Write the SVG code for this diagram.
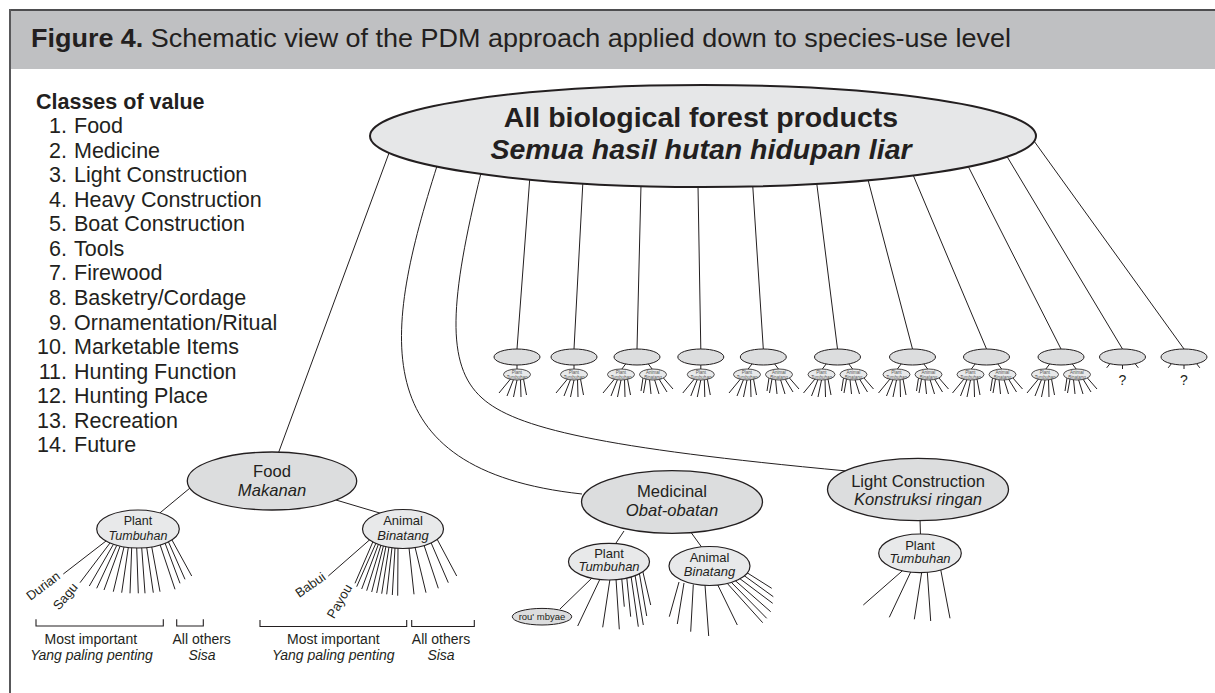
<svg xmlns="http://www.w3.org/2000/svg" width="1215" height="693" viewBox="0 0 1215 693">
<style>
.ln{stroke:#231f20;stroke-width:1;fill:none}
.br{stroke:#231f20;stroke-width:1.1;fill:none}
.e0{fill:#e6e7e8;stroke:#231f20;stroke-width:2}
.e1{fill:#dcddde;stroke:#231f20;stroke-width:1.3}
.e2{fill:#e8e9ea;stroke:#231f20;stroke-width:1.2}
.e3{fill:#dcddde;stroke:#231f20;stroke-width:1}
.e4{fill:#e8e9ea;stroke:#231f20;stroke-width:0.8}
text{font-family:"Liberation Sans",Arial,Helvetica,sans-serif;fill:#231f20}
.c{text-anchor:middle}
.i{font-style:italic}
.leg{font-size:21.5px}
.mid{font-size:16.6px}
.sm{font-size:13px}
.br14{font-size:14px}
.tiny{font-size:4.5px;fill:#555}
</style>
<rect width="1215" height="693" fill="#ffffff"/>
<g id="frame">
<rect x="10" y="10" width="1205" height="59" fill="#bfc0c2"/>
<line x1="10" y1="10" x2="1215" y2="10" stroke="#4d4d4f" stroke-width="2"/>
<line x1="10" y1="9" x2="10" y2="693" stroke="#58585a" stroke-width="2"/>
<text x="31" y="47" font-size="25" textLength="980" lengthAdjust="spacingAndGlyphs"><tspan font-weight="bold">Figure 4.</tspan> Schematic view of the PDM approach applied down to species-use level</text>
</g>
<g id="legend">
<text x="36" y="109" font-size="21.5" font-weight="bold">Classes of value</text>
<text class="leg"><tspan x="67" y="133" text-anchor="end">1.</tspan><tspan x="74" y="133">Food</tspan></text>
<text class="leg"><tspan x="67" y="157.6" text-anchor="end">2.</tspan><tspan x="74" y="157.6">Medicine</tspan></text>
<text class="leg"><tspan x="67" y="182.1" text-anchor="end">3.</tspan><tspan x="74" y="182.1">Light Construction</tspan></text>
<text class="leg"><tspan x="67" y="206.7" text-anchor="end">4.</tspan><tspan x="74" y="206.7">Heavy Construction</tspan></text>
<text class="leg"><tspan x="67" y="231.3" text-anchor="end">5.</tspan><tspan x="74" y="231.3">Boat Construction</tspan></text>
<text class="leg"><tspan x="67" y="255.9" text-anchor="end">6.</tspan><tspan x="74" y="255.9">Tools</tspan></text>
<text class="leg"><tspan x="67" y="280.4" text-anchor="end">7.</tspan><tspan x="74" y="280.4">Firewood</tspan></text>
<text class="leg"><tspan x="67" y="305" text-anchor="end">8.</tspan><tspan x="74" y="305">Basketry/Cordage</tspan></text>
<text class="leg"><tspan x="67" y="329.6" text-anchor="end">9.</tspan><tspan x="74" y="329.6">Ornamentation/Ritual</tspan></text>
<text class="leg"><tspan x="67" y="354.1" text-anchor="end">10.</tspan><tspan x="74" y="354.1">Marketable Items</tspan></text>
<text class="leg"><tspan x="67" y="378.7" text-anchor="end">11.</tspan><tspan x="74" y="378.7">Hunting Function</tspan></text>
<text class="leg"><tspan x="67" y="403.3" text-anchor="end">12.</tspan><tspan x="74" y="403.3">Hunting Place</tspan></text>
<text class="leg"><tspan x="67" y="427.8" text-anchor="end">13.</tspan><tspan x="74" y="427.8">Recreation</tspan></text>
<text class="leg"><tspan x="67" y="452.4" text-anchor="end">14.</tspan><tspan x="74" y="452.4">Future</tspan></text>
</g>
<g id="connectors">
<path class="ln" d="M389.4,152 L278.4,453"/>
<path class="ln" d="M437,166 C385,330 360,470 582,494"/>
<path class="ln" d="M481,173 C450,300 445,365 482,398 C515,428 600,448 847,471"/>
<path class="ln" d="M529.8,178 L517,349"/>
<path class="ln" d="M582.9,182 L574,349"/>
<path class="ln" d="M641,185 L637,349"/>
<path class="ln" d="M698,186 L700.8,349"/>
<path class="ln" d="M752.7,185 L763.3,349"/>
<path class="ln" d="M816.7,183 L837.5,349"/>
<path class="ln" d="M867.8,179 L912.5,349"/>
<path class="ln" d="M912.7,174 L986.5,349"/>
<path class="ln" d="M968,166 L1061,349"/>
<path class="ln" d="M1006.7,156 L1122.5,349"/>
<path class="ln" d="M1034,141 L1184,349"/>
<path class="ln" d="M517,364 V370 M574,364 V370 M700.8,364 V370
M626,363.5 L621.5,369.5 M648,363.5 L652.5,369.5
M752.3,363.5 L747.8,369.5 M774.3,363.5 L778.8,369.5
M826.5,363.5 L822,369.5 M848.5,363.5 L853,369.5
M901.5,363.5 L897,369.5 M923.5,363.5 L928,369.5
M975.5,363.5 L971,369.5 M997.5,363.5 L1002,369.5
M1050,363.5 L1045.5,369.5 M1072,363.5 L1076.5,369.5"/>
<path class="ln" d="M510.5,379 L499,393 M513.5,379.5 L507,396 M517,380 L513.5,397 M520.5,379.5 L521,397 M523.5,379 L526.5,395
M567.5,379 L556,393 M570.5,379.5 L564,396 M574,380 L570.5,397 M577.5,379.5 L578,397 M580.5,379 L583.5,395
M614.5,379 L603,393 M617.5,379.5 L611,396 M621,380 L617.5,397 M624.5,379.5 L625,397 M627.5,379 L630.5,395
M694.3,379 L682.8,393 M697.3,379.5 L690.8,396 M700.8,380 L697.3,397 M704.3,379.5 L704.8,397 M707.3,379 L710.3,395
M740.5,379 L729,393 M743.5,379.5 L737,396 M747,380 L743.5,397 M750.5,379.5 L751,397 M753.5,379 L756.5,395
M815,379 L803.5,393 M818,379.5 L811.5,396 M821.5,380 L818,397 M825,379.5 L825.5,397 M828,379 L831,395
M890,379 L878.5,393 M893,379.5 L886.5,396 M896.5,380 L893,397 M900,379.5 L900.5,397 M903,379 L906,395
M964,379 L952.5,393 M967,379.5 L960.5,396 M970.5,380 L967,397 M974,379.5 L974.5,397 M977,379 L980,395
M1038.5,379 L1027,393 M1041.5,379.5 L1035,396 M1045,380 L1041.5,397 M1048.5,379.5 L1049,397 M1051.5,379 L1054.5,395"/>
<path class="ln" d="M643,378 L641,391 M646,379 L643.5,393 M649.5,379.5 L651,394 M654.5,379.5 L659,394 M659,379 L667,392 M663,377.5 L673,389
M769,378 L767,391 M772,379 L769.5,393 M775.5,379.5 L777,394 M780.5,379.5 L785,394 M785,379 L793,392 M789,377.5 L799,389
M843.5,378 L841.5,391 M846.5,379 L844,393 M850,379.5 L851.5,394 M855,379.5 L859.5,394 M859.5,379 L867.5,392 M863.5,377.5 L873.5,389
M918.5,378 L916.5,391 M921.5,379 L919,393 M925,379.5 L926.5,394 M930,379.5 L934.5,394 M934.5,379 L942.5,392 M938.5,377.5 L948.5,389
M992.5,378 L990.5,391 M995.5,379 L993,393 M999,379.5 L1000.5,394 M1004,379.5 L1008.5,394 M1008.5,379 L1016.5,392 M1012.5,377.5 L1022.5,389
M1067,378 L1065,391 M1070,379 L1067.5,393 M1073.5,379.5 L1075,394 M1078.5,379.5 L1083,394 M1083,379 L1091,392 M1087,377.5 L1097,389"/>
<path class="ln" d="M1110,363.6 L1106.7,367.8 M1122.5,365 V369 M1135,363.6 L1138.3,367.8
M1171.5,363.6 L1168.2,367.8 M1184,365 V369 M1196.5,363.6 L1199.8,367.8"/>
<path class="ln" d="M190,488 L155,517 M336,500 L383,514"/>
<path class="ln" d="M106,541 L63.3,574 M110,543 L80,582.7 M113.3,544.5 L89.3,586 M116.7,545.5 L96.7,588.3 M120,546.3 L104,590
M124,547 L113.3,591.7 M128.3,547.5 L121.7,592.7 M131.7,547.5 L130,593.3 M136.7,547.5 L138.3,593.3 M141.7,547.5 L145,593.3
M146.7,547.3 L153.3,592.7 M151.7,546.7 L160,591.7 M160,544.5 L175,589.3 M165,543 L180,583.3 M168.3,541.5 L185,579.3 M171.7,539.5 L191.7,576"/>
<path class="ln" d="M370,539.5 L328.3,576 M373,541.5 L355,583.3 M376,543 L356.7,586.7 M378.5,544 L361.7,589 M381,545 L366.7,590.7
M383.5,545.6 L371.7,592 M386,546.2 L376.7,593 M389,546.8 L381.7,593.7 M392,547.3 L386.7,594.3 M395,547.6 L392.3,595
M398,547.8 L397.7,595.7 M409,547.8 L414,594.3 M415,547.1 L426,592.7 M424,545.2 L438.3,588.3 M431,542.6 L448.3,582.7 M437,539 L456.7,576"/>
<path class="ln" d="M624,531 L614,546 M690,531 L703,549 M593,577 L560,609"/>
<path class="ln" d="M610,579 L602.7,627.3 M616,579 L619.3,629.3 M621.7,578 L624.3,606.7 M626.7,577 L630.7,616.7
M631,576 L638.3,626.7 M635,575 L643.3,625 M639.3,573 L646.7,616 M642.7,571 L650.7,605 M600,579 L577.7,626"/>
<path class="ln" d="M679,582 L669.3,616.7 M684,583 L677.3,624 M693.3,584.5 L690.7,631.7 M705,585 L708.7,636
M717.3,584 L737.3,625 M726,582 L762.7,622.7 M730,581 L766.7,618.3 M734,579.5 L770.7,611.7 M738.3,577.5 L772.7,603.3
M743.3,575 L773.3,596.7 M746.7,572.5 L771.7,588.3"/>
<path class="ln" d="M920,519 L920.5,536"/>
<path class="ln" d="M902.7,570.5 L863.3,605 M910.7,572 L889.3,617.3 M921.7,572.3 L914.3,619.3 M927.3,572 L930.7,621 M940.7,569.5 L950,618.3"/>
<path class="br" d="M36,619.3 V626 H163.3 V619.3 M176.7,619.3 V626 H203.3 V619.3"/>
<path class="br" d="M260,620 V626.5 H406.7 V620 M411.7,620 V626.5 H474.3 V620"/>
</g>
<g id="root">
<ellipse class="e0" cx="703" cy="136" rx="333" ry="51"/>
<text class="c" x="701" y="127" font-size="28.5" font-weight="bold">All biological forest products</text>
<text class="c" x="701" y="159" font-size="28.5" font-weight="bold" font-style="italic">Semua hasil hutan hidupan liar</text>
</g>
<g id="class-row">
<ellipse class="e3" cx="517" cy="357" rx="23" ry="8"/>
<ellipse class="e3" cx="574" cy="357" rx="23" ry="8"/>
<ellipse class="e3" cx="637" cy="357" rx="23" ry="8"/>
<ellipse class="e3" cx="700.8" cy="357" rx="23" ry="8"/>
<ellipse class="e3" cx="763.3" cy="357" rx="23" ry="8"/>
<ellipse class="e3" cx="837.5" cy="357" rx="23" ry="8"/>
<ellipse class="e3" cx="912.5" cy="357" rx="23" ry="8"/>
<ellipse class="e3" cx="986.5" cy="357" rx="23" ry="8"/>
<ellipse class="e3" cx="1061" cy="357" rx="23" ry="8"/>
<ellipse class="e3" cx="1122.5" cy="357" rx="23" ry="8"/>
<ellipse class="e3" cx="1184" cy="357" rx="23" ry="8"/>
<text class="c" x="1122.5" y="385" font-size="14">?</text>
<text class="c" x="1184" y="385" font-size="14">?</text>
</g>
<g id="class-row-children">
<ellipse class="e4" cx="517" cy="374.5" rx="13.5" ry="5.5"/><text class="c tiny" x="517" y="373.6">Plant</text><text class="c tiny i" x="517" y="378.5">Tumbuhan</text>
<ellipse class="e4" cx="574" cy="374.5" rx="13.5" ry="5.5"/><text class="c tiny" x="574" y="373.6">Plant</text><text class="c tiny i" x="574" y="378.5">Tumbuhan</text>
<ellipse class="e4" cx="621" cy="374.5" rx="13.5" ry="5.5"/><text class="c tiny" x="621" y="373.6">Plant</text><text class="c tiny i" x="621" y="378.5">Tumbuhan</text>
<ellipse class="e4" cx="653" cy="374.5" rx="13.5" ry="5.5"/><text class="c tiny" x="653" y="373.6">Animal</text><text class="c tiny i" x="653" y="378.5">Binatang</text>
<ellipse class="e4" cx="700.8" cy="374.5" rx="13.5" ry="5.5"/><text class="c tiny" x="700.8" y="373.6">Plant</text><text class="c tiny i" x="700.8" y="378.5">Tumbuhan</text>
<ellipse class="e4" cx="747" cy="374.5" rx="13.5" ry="5.5"/><text class="c tiny" x="747" y="373.6">Plant</text><text class="c tiny i" x="747" y="378.5">Tumbuhan</text>
<ellipse class="e4" cx="779" cy="374.5" rx="13.5" ry="5.5"/><text class="c tiny" x="779" y="373.6">Animal</text><text class="c tiny i" x="779" y="378.5">Binatang</text>
<ellipse class="e4" cx="821.5" cy="374.5" rx="13.5" ry="5.5"/><text class="c tiny" x="821.5" y="373.6">Plant</text><text class="c tiny i" x="821.5" y="378.5">Tumbuhan</text>
<ellipse class="e4" cx="853.5" cy="374.5" rx="13.5" ry="5.5"/><text class="c tiny" x="853.5" y="373.6">Animal</text><text class="c tiny i" x="853.5" y="378.5">Binatang</text>
<ellipse class="e4" cx="896.5" cy="374.5" rx="13.5" ry="5.5"/><text class="c tiny" x="896.5" y="373.6">Plant</text><text class="c tiny i" x="896.5" y="378.5">Tumbuhan</text>
<ellipse class="e4" cx="928.5" cy="374.5" rx="13.5" ry="5.5"/><text class="c tiny" x="928.5" y="373.6">Animal</text><text class="c tiny i" x="928.5" y="378.5">Binatang</text>
<ellipse class="e4" cx="970.5" cy="374.5" rx="13.5" ry="5.5"/><text class="c tiny" x="970.5" y="373.6">Plant</text><text class="c tiny i" x="970.5" y="378.5">Tumbuhan</text>
<ellipse class="e4" cx="1002.5" cy="374.5" rx="13.5" ry="5.5"/><text class="c tiny" x="1002.5" y="373.6">Animal</text><text class="c tiny i" x="1002.5" y="378.5">Binatang</text>
<ellipse class="e4" cx="1045" cy="374.5" rx="13.5" ry="5.5"/><text class="c tiny" x="1045" y="373.6">Plant</text><text class="c tiny i" x="1045" y="378.5">Tumbuhan</text>
<ellipse class="e4" cx="1077" cy="374.5" rx="13.5" ry="5.5"/><text class="c tiny" x="1077" y="373.6">Animal</text><text class="c tiny i" x="1077" y="378.5">Binatang</text>
</g>
<g id="food">
<ellipse class="e1" cx="272" cy="481" rx="84.7" ry="29"/>
<text class="c mid" x="272" y="477">Food</text>
<text class="c mid i" x="272" y="495.5">Makanan</text>
</g>
<g id="food-plant">
<ellipse class="e2" cx="138" cy="529" rx="41.3" ry="19"/>
<text class="c" x="138" y="525" font-size="12.5">Plant</text>
<text class="c i" x="138" y="539.5" font-size="12.5">Tumbuhan</text>
</g>
<g id="food-animal">
<ellipse class="e2" cx="403" cy="529" rx="40.5" ry="19.5"/>
<text class="c sm" x="403" y="524.5">Animal</text>
<text class="c sm i" x="403" y="539.5">Binatang</text>
</g>
<g id="food-labels">
<text class="sm" text-anchor="end" transform="translate(61,578) rotate(-37)">Durian</text>
<text class="sm" text-anchor="end" transform="translate(78.5,587.5) rotate(-50)">Sagu</text>
<text class="sm" text-anchor="end" transform="translate(326.5,579) rotate(-35)">Babui</text>
<text class="sm" text-anchor="end" transform="translate(352.5,587.5) rotate(-60)">Payou</text>
<text class="c br14" x="90.8" y="644">Most important</text>
<text class="c br14 i" x="91.5" y="659.5">Yang paling penting</text>
<text class="c br14" x="201.7" y="644">All others</text>
<text class="c br14 i" x="202" y="659.5">Sisa</text>
<text class="c br14" x="333.3" y="644">Most important</text>
<text class="c br14 i" x="333.3" y="659.5">Yang paling penting</text>
<text class="c br14" x="441" y="644">All others</text>
<text class="c br14 i" x="441" y="659.5">Sisa</text>
</g>
<g id="medicinal">
<ellipse class="e1" cx="672" cy="502" rx="90.5" ry="31.3"/>
<text class="c mid" x="672" y="497">Medicinal</text>
<text class="c mid i" x="672" y="515.5">Obat-obatan</text>
</g>
<g id="medicinal-plant">
<ellipse class="e2" cx="609" cy="561.7" rx="40.5" ry="18.3"/>
<text class="c sm" x="609" y="557.5">Plant</text>
<text class="c sm i" x="609" y="571">Tumbuhan</text>
</g>
<g id="medicinal-animal">
<ellipse class="e2" cx="709.5" cy="566" rx="40.5" ry="19.5"/>
<text class="c sm" x="709.5" y="561.7">Animal</text>
<text class="c sm i" x="709.5" y="576">Binatang</text>
</g>
<g id="rou-mbyae">
<ellipse class="e1" cx="542" cy="616.7" rx="29.7" ry="8.3" style="stroke-width:1"/>
<text class="c" x="542" y="620" font-size="9.5">rou' mbyae</text>
</g>
<g id="light-construction">
<ellipse class="e1" cx="918" cy="489.5" rx="90.5" ry="31.2"/>
<text class="c mid" x="918" y="487">Light Construction</text>
<text class="c mid i" x="918" y="505">Konstruksi ringan</text>
</g>
<g id="lc-plant">
<ellipse class="e2" cx="920" cy="553.3" rx="41.3" ry="19.3"/>
<text class="c sm" x="920" y="549.5">Plant</text>
<text class="c sm i" x="920" y="563">Tumbuhan</text>
</g>
</svg>
